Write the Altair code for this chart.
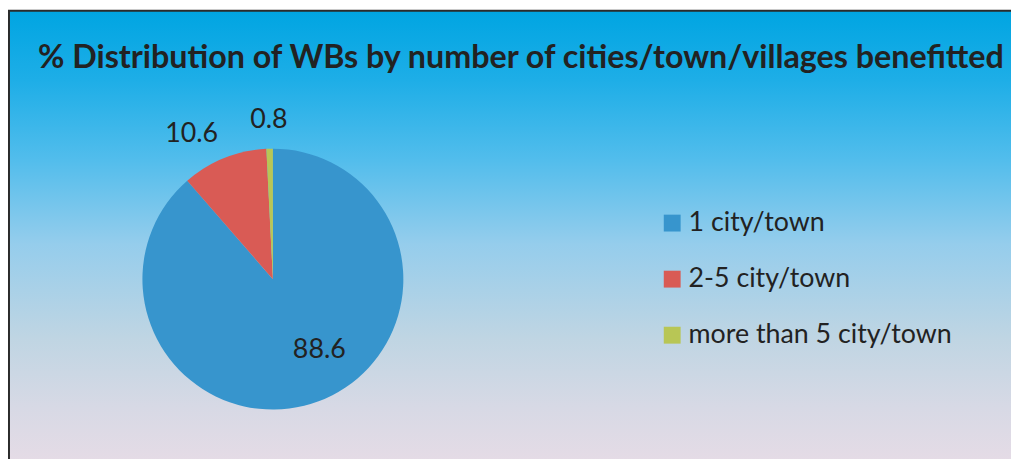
import altair as alt
import pandas as pd

categories = ["1 city/town", "2-5 city/town", "more than 5 city/town"]
values = [88.6, 10.6, 0.8]
labels = ["88.6", "10.6", "0.8"]
colors = ["#3795cd", "#d95b55", "#b8c655"]
title_text = "% Distribution of WBs by number of cities/town/villages benefitted"

W, H = 1011, 451
df = pd.DataFrame({"cat": categories, "value": values, "label": labels, "idx": [0, 1, 2]})

bg = alt.Chart(alt.Data(values=[{}])).mark_rect(
    fill=alt.LinearGradient(
        gradient="linear", x1=0, y1=0, x2=0, y2=1,
        stops=[
            alt.GradientStop(color="#00a5e2", offset=0),
            alt.GradientStop(color="#1eaee7", offset=0.15),
            alt.GradientStop(color="#52bdec", offset=0.32),
            alt.GradientStop(color="#95cdec", offset=0.5),
            alt.GradientStop(color="#bfd5e3", offset=0.7),
            alt.GradientStop(color="#d7d9e5", offset=0.85),
            alt.GradientStop(color="#e9dce6", offset=1),
        ],
    ),
    stroke="#2b2b2b", strokeWidth=2,
).encode(x=alt.value(1), x2=alt.value(W + 20), y=alt.value(1), y2=alt.value(H + 20))

title = alt.Chart(alt.Data(values=[{}])).mark_text(
    text=title_text, font="Lato", fontWeight="bold", fontSize=32.5,
    color="#222222", align="center", baseline="alphabetic",
).encode(x=alt.value(517), y=alt.value(59))

cx, cy = 267, 271.5

pie = alt.Chart(df).mark_arc(x=cx, y=cy, outerRadius=131.5, stroke=None).encode(
    theta=alt.Theta("value:Q", stack=True, scale=alt.Scale(domain=[0, 100])),
    order=alt.Order("idx:Q"),
    color=alt.Color(
        "cat:N",
        scale=alt.Scale(domain=categories, range=colors),
        legend=alt.Legend(
            title=None, orient="none", legendX=656, legendY=201.5, padding=0,
            symbolType="square", symbolSize=289, symbolStrokeWidth=0,
            labelFont="Lato", labelFontSize=27, labelColor="#222222",
            labelOffset=3, rowPadding=28.5, labelLimit=400,
        ),
    ),
)

def lab(cat, radius, dx, dy):
    return alt.Chart(df).transform_window(
        cum="sum(value)", sort=[alt.SortField("idx")], frame=[None, 0]
    ).transform_calculate(
        mid="datum.cum - datum.value / 2"
    ).transform_filter(
        alt.datum.cat == cat
    ).mark_text(
        x=cx, y=cy, radius=radius, dx=dx, dy=dy, font="Lato", fontSize=27,
        color="#222222", align="center", baseline="middle",
    ).encode(
        theta=alt.Theta("mid:Q", stack=None, scale=alt.Scale(domain=[0, 100])),
        text="label:N",
    )

chart = alt.layer(
    bg, title, pie,
    lab(categories[0], 85, 17, -8),
    lab(categories[1], 163, -21, 5),
    lab(categories[2], 160, 0, 0),
).properties(
    width=W, height=H, padding=0, autosize=alt.AutoSizeParams(type="none")
).configure_view(strokeWidth=0)

chart.save("out.html", embed_options={"renderer": "svg", "actions": False})
